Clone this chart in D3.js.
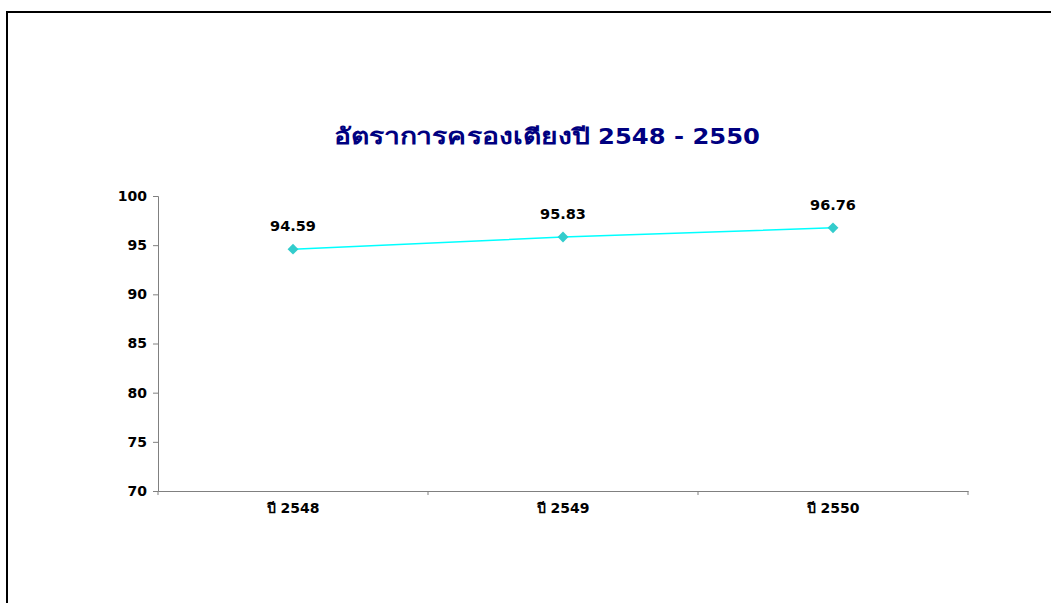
<!DOCTYPE html>
<html><head><meta charset="utf-8">
<script src="https://cdn.jsdelivr.net/npm/d3@7"></script>
<style>html,body{margin:0;padding:0;background:#fff;}svg{display:block;}</style>
</head><body>
<script>
const categories = ["ปี 2548", "ปี 2549", "ปี 2550"];
const values = [94.59, 95.83, 96.76];
const yTicks = [70, 75, 80, 85, 90, 95, 100];
const titleThai = "อัตราการครองเตียงปี";
const titleYears = "2548 - 2550";

const W = 1051, H = 603;
const svg = d3.select("body").append("svg").attr("width", W).attr("height", H);
svg.append("rect").attr("width", W).attr("height", H).attr("fill", "#fff");
// outer border (top & left visible)
svg.append("path").attr("d", "M7,603 V12 H1051").attr("fill", "none").attr("stroke", "#000").attr("stroke-width", 2);

const font = "'DejaVu Sans', Verdana, sans-serif";
const x = d3.scaleBand().domain(categories).range([158, 968]);
const y = d3.scaleLinear().domain([70, 100]).range([491, 196]);

const title = svg.append("g").attr("font-family", font).attr("font-weight", "bold")
  .attr("font-size", 22).attr("fill", "#000080");
title.append("text").attr("x", 334).attr("y", 144).attr("textLength", 256)
  .attr("lengthAdjust", "spacingAndGlyphs").text(titleThai);
title.append("text").attr("x", 598).attr("y", 144).attr("textLength", 162)
  .attr("lengthAdjust", "spacingAndGlyphs").text(titleYears);

// y axis
const ya = svg.append("g").attr("transform", "translate(158,0)")
  .call(d3.axisLeft(y).tickValues(yTicks).tickSize(5).tickPadding(6));
ya.select(".domain").attr("stroke", "#808080");
ya.selectAll(".tick line").attr("stroke", "#808080");
ya.selectAll(".tick text").attr("font-family", font).attr("font-weight", "bold").attr("font-size", 14).attr("fill", "#000");

// x axis
const xa = svg.append("g").attr("transform", "translate(0,491)")
  .call(d3.axisBottom(x).tickSize(0).tickPadding(12));
xa.select(".domain").attr("stroke", "#808080");
xa.selectAll(".tick text").attr("font-family", font).attr("font-weight", "bold").attr("font-size", 14).attr("fill", "#000");
const bounds = categories.map(c => x(c)).concat([x.range()[1]]);
xa.selectAll(".bt").data(bounds).enter().append("line").attr("class", "bt")
  .attr("x1", d => d).attr("x2", d => d).attr("y1", 0).attr("y2", 4).attr("stroke", "#808080");

const cx = c => x(c) + x.bandwidth() / 2;
const line = d3.line().x((d, i) => cx(categories[i])).y(d => y(d));
svg.append("path").datum(values).attr("d", line).attr("fill", "none").attr("stroke", "#00FFFF").attr("stroke-width", 1.5);

svg.selectAll(".mk").data(values).enter().append("path").attr("class", "mk")
  .attr("transform", (d, i) => `translate(${cx(categories[i])},${y(d)})`)
  .attr("d", d3.symbol(d3.symbolDiamond2, 75)).attr("fill", "#33CCCC");

svg.selectAll(".lbl").data(values).enter().append("text").attr("class", "lbl")
  .attr("x", (d, i) => cx(categories[i])).attr("y", d => y(d) - 18)
  .attr("text-anchor", "middle").attr("font-family", font).attr("font-weight", "bold")
  .attr("font-size", 14.5).attr("fill", "#000").text(d => d.toFixed(2));
</script>
</body></html>
